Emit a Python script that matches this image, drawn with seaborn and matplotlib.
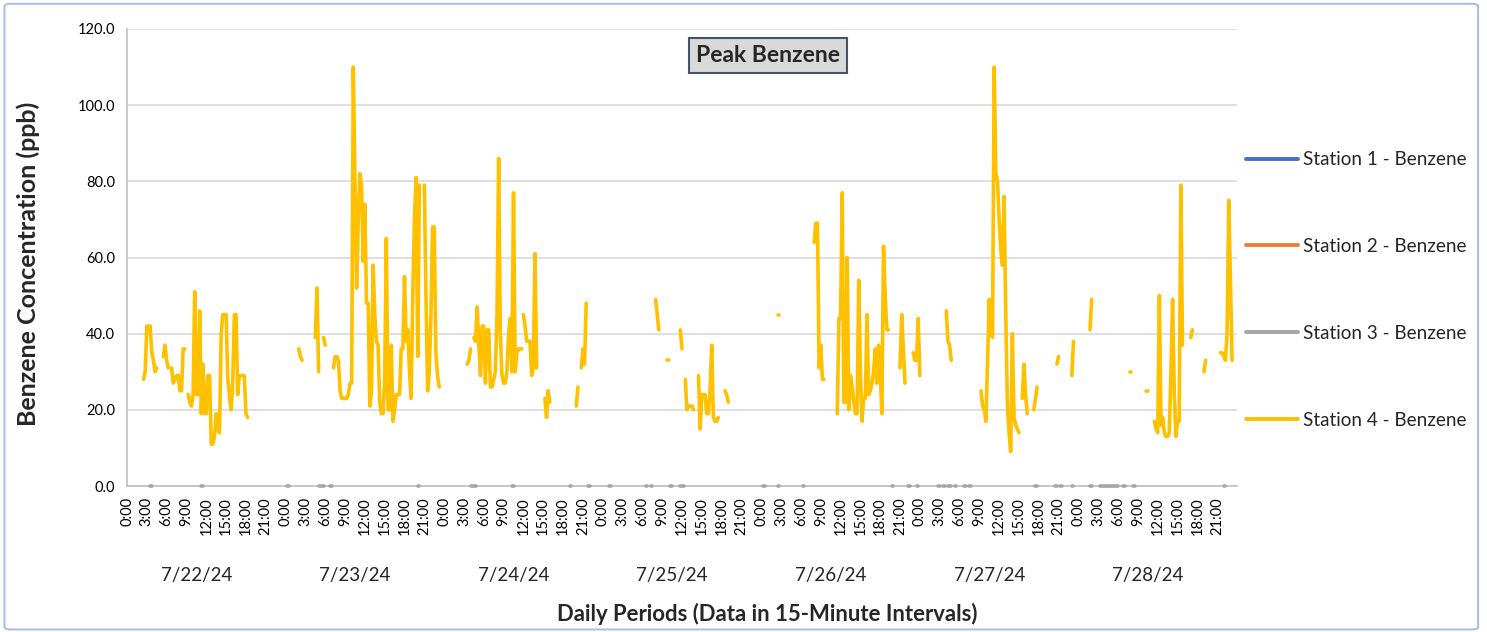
import numpy as np
import pandas as pd
import matplotlib
matplotlib.use('Agg')
import matplotlib.pyplot as plt
import matplotlib.transforms as mtransforms
from matplotlib.lines import Line2D
from matplotlib.patches import FancyBboxPatch
import seaborn as sns

sns.set_theme(style='white')
plt.rcParams['font.family'] = ['Lato', 'DejaVu Sans']

# ---DATA---
days = ['7/22/24', '7/23/24', '7/24/24', '7/25/24', '7/26/24', '7/27/24', '7/28/24']
hour_labels = ['0:00', '3:00', '6:00', '9:00', '12:00', '15:00', '18:00', '21:00']

stations = ['Station 1 - Benzene', 'Station 2 - Benzene',
            'Station 3 - Benzene', 'Station 4 - Benzene']
colors = ['#4472C4', '#ED7D31', '#A5A5A5', '#FFC000']

# Station 4: start of each unbroken run of 15-minute readings (ppb)
st4_starts = ['7/22 02:30', '7/22 05:30', '7/22 06:45', '7/22 09:15',
              '7/23 02:00', '7/23 04:30', '7/23 05:45', '7/23 07:15', '7/23 21:00',
              '7/24 03:30', '7/24 04:30', '7/24 12:00', '7/24 15:15', '7/24 20:00', '7/24 20:45',
              '7/25 08:00', '7/25 09:45', '7/25 11:45', '7/25 12:30', '7/25 14:30', '7/25 18:30',
              '7/26 02:30', '7/26 08:00', '7/26 11:30', '7/26 21:00', '7/26 23:00',
              '7/27 04:00', '7/27 09:15', '7/27 15:30', '7/27 17:15', '7/27 20:45', '7/27 23:00',
              '7/28 01:45', '7/28 07:45', '7/28 10:15', '7/28 11:30', '7/28 17:00', '7/28 19:00',
              '7/28 21:30']
st4_values = [
    [28, 30, 42, 42, 42, 35, 33, 30, 31],
    [34, 37, 33, 31],
    [31, 27, 28, 29, 29, 25, 25, 36, 36],
    [24, 22, 21, 24, 51, 24, 24, 46, 19, 32, 19, 19, 29, 29, 11, 11, 13, 19, 15, 14,
     40, 45, 45, 45, 28, 24, 20, 27, 45, 45, 24, 29, 29, 29, 29, 19, 18],
    [36, 34, 33],
    [39, 52, 30],
    [39, 37],
    [31, 34, 34, 33, 25, 23, 23, 23, 23, 24, 27, 27, 110, 80, 52, 70, 82, 79, 59, 74,
     48, 48, 21, 25, 58, 45, 38, 37, 22, 19, 19, 28, 65, 20, 20, 37, 17, 20, 24, 24,
     24, 36, 36, 55, 38, 41, 30, 23, 50, 70, 81, 34, 79],
    [79, 50, 25, 30, 45, 68, 68, 35, 29, 26],
    [32, 33, 36],
    [39, 38, 47, 37, 29, 42, 42, 27, 41, 41, 26, 26, 28, 30, 45, 86, 40, 29, 27, 27,
     30, 40, 44, 30, 77, 30, 35, 36, 36, 36],
    [45, 42, 38, 38, 38, 29, 31, 61, 31],
    [23, 18, 25, 22],
    [21, 26],
    [31, 36, 32, 48],
    [49, 45, 41],
    [33, 33],
    [41, 36],
    [28, 20, 21, 21, 21, 20],
    [29, 15, 24, 24, 24, 19, 19, 25, 37, 18, 17, 17, 18],
    [25, 24, 22],
    [45, 45],
    [64, 69, 69, 31, 37, 28, 28],
    [19, 44, 44, 77, 22, 22, 60, 20, 29, 26, 22, 19, 19, 54, 30, 17, 23, 23, 45, 24,
     25, 27, 30, 36, 27, 37, 30, 19, 63, 50, 41, 41],
    [31, 45, 36, 27],
    [35, 33, 33, 44, 29],
    [46, 38, 37, 33],
    [25, 21, 20, 17, 33, 49, 40, 39, 110, 82, 80, 70, 62, 58, 76, 45, 21, 14, 9, 40,
     18, 16, 15, 14],
    [23, 32, 24, 19],
    [20, 23, 26],
    [32, 34],
    [29, 38],
    [41, 49],
    [30, 30],
    [25, 25],
    [17, 15, 14, 50, 16, 18, 14, 13, 13, 14, 30, 49, 25, 13, 17, 17, 79, 37],
    [39, 41],
    [30, 33],
    [35, 35, 34, 33, 40, 75, 55, 33],
]

# Station 3: short runs of 0.0 ppb readings (start, number of readings)
st3_starts = ['7/22 03:30', '7/22 11:15', '7/23 00:15', '7/23 05:00', '7/23 06:45',
              '7/23 20:00', '7/24 04:00', '7/24 10:15', '7/24 19:00', '7/24 21:45',
              '7/25 01:00', '7/25 06:30', '7/25 07:15', '7/25 10:15', '7/25 11:45',
              '7/26 00:15', '7/26 02:30', '7/26 06:15', '7/26 19:45', '7/26 22:15',
              '7/26 23:30', '7/27 02:45', '7/27 03:30', '7/27 04:15', '7/27 05:15',
              '7/27 06:45', '7/27 07:30', '7/27 17:30', '7/27 20:30', '7/27 21:15',
              '7/27 23:00', '7/28 01:45', '7/28 03:15', '7/28 06:45', '7/28 08:15',
              '7/28 22:00']
st3_counts = [2, 2, 2, 4, 2, 2, 4, 2, 2, 2, 2, 2, 2, 2, 3, 2, 2, 2, 2, 2, 2, 2, 2, 3,
              2, 2, 2, 2, 2, 2, 2, 2, 12, 2, 2, 2]

# ---BUILD LONG TABLE---
t0 = pd.Timestamp('2024-07-22 00:00')
n_points = len(days) * 96


def to_idx(s):
    t = pd.to_datetime('2024/' + s, format='%Y/%m/%d %H:%M')
    return int((t - t0) / pd.Timedelta(minutes=15))


rows = []
for k, (s, n) in enumerate(zip(st3_starts, st3_counts)):
    i0 = to_idx(s)
    for j in range(n):
        rows.append((stations[2], 's3_%d' % k, i0 + j, 0.0))
for k, (s, vals) in enumerate(zip(st4_starts, st4_values)):
    i0 = to_idx(s)
    for j, v in enumerate(vals):
        rows.append((stations[3], 's4_%d' % k, i0 + j, v))
df = pd.DataFrame(rows, columns=['station', 'seg', 'idx', 'ppb'])

# ---PLOT---
fig = plt.figure(figsize=(14.87, 6.32), dpi=100)
ax = fig.add_axes([127 / 1487, 1 - 486 / 632, 1110 / 1487, 457 / 632])

sns.lineplot(data=df, x='idx', y='ppb', hue='station', units='seg', estimator=None,
             hue_order=stations[2:], palette=dict(zip(stations, colors)),
             lw=2.6, solid_capstyle='round', solid_joinstyle='round',
             legend=False, ax=ax, clip_on=False, zorder=3)

ax.set_xlim(0, n_points)
ax.set_ylim(0, 120)
ax.set_yticks(np.arange(0, 121, 20))
ax.set_yticklabels(['%.1f' % v for v in np.arange(0, 121, 20)], fontsize=10.5)
ax.set_xticks(np.arange(0, n_points, 12))
ax.set_xticklabels(hour_labels * len(days), rotation=90, fontsize=10.5, va='top')
ax.set_xlabel('')
ax.set_ylabel('')
ax.grid(axis='y', color='#d9d9d9', lw=1.2)
ax.set_axisbelow(True)
for side in ['top', 'right']:
    ax.spines[side].set_visible(False)
for side in ['left', 'bottom']:
    ax.spines[side].set_color('#bfbfbf')
    ax.spines[side].set_linewidth(1.2)
ax.tick_params(axis='both', colors='#bfbfbf', labelcolor='black', length=5, width=1, direction='out')
ax.tick_params(axis='x', pad=3)

trans = mtransforms.blended_transform_factory(ax.transData, fig.transFigure)
for d, lab in enumerate(days):
    ax.text(d * 96 + 42, 1 - 576 / 632, lab, transform=trans, ha='center', va='center', fontsize=13.5)

fig.text(28 / 1487, 1 - 264 / 632, 'Benzene Concentration (ppb)', rotation=90,
         ha='center', va='center', fontsize=18, fontweight='bold')
fig.text(767 / 1487, 1 - 614 / 632, 'Daily Periods (Data in 15-Minute Intervals)',
         ha='center', va='center', fontsize=15.9, fontweight='bold')

ax.text(0.5775, 0.942, 'Peak Benzene', transform=ax.transAxes, ha='center', va='center',
        fontsize=16.5, fontweight='bold',
        bbox=dict(boxstyle='square,pad=0.3', fc='#d9d9d9', ec='#44546a', lw=1.5))

handles = [Line2D([], [], color=c, lw=2.8) for c in colors]
fig.legend(handles, stations, loc='center left', bbox_to_anchor=(1229 / 1487, 1 - 290 / 632),
           frameon=False, fontsize=13.6, labelspacing=3.7, handlelength=2.75, handletextpad=0.25)

fig.add_artist(FancyBboxPatch((0.003, 0.004), 0.991, 0.99, boxstyle='round,pad=0,rounding_size=0.004',
                              transform=fig.transFigure, fc='none', ec='#a9c1e3', lw=1.5))

plt.savefig('out.png', dpi=100)
